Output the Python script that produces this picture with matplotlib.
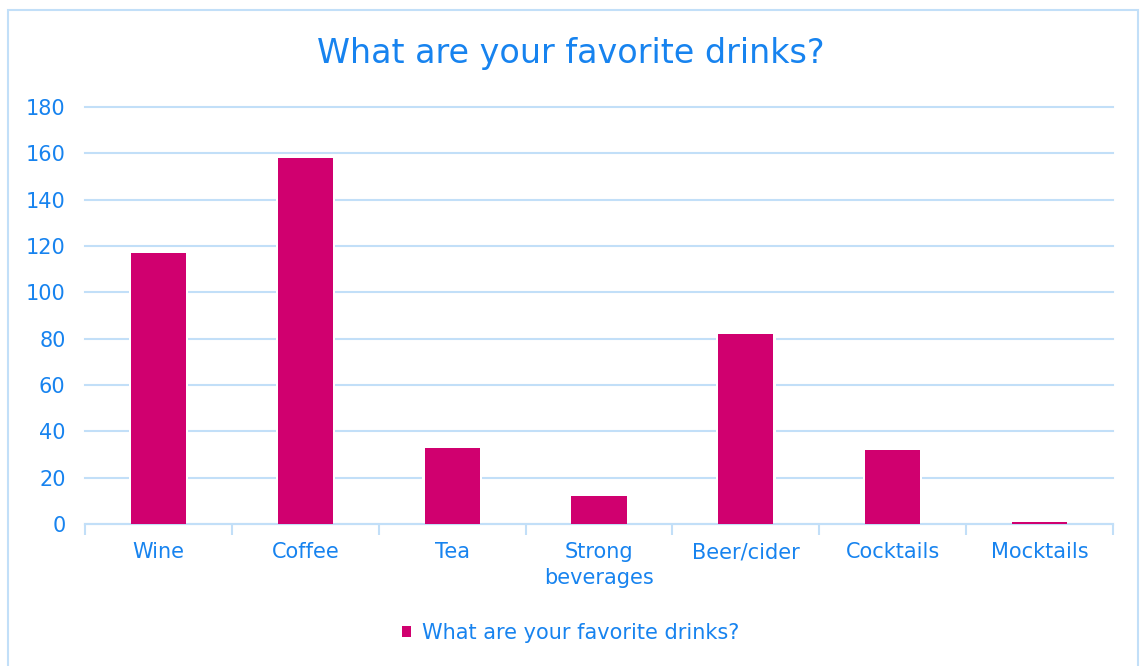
import matplotlib.pyplot as plt
from matplotlib.patches import Rectangle
import numpy as np

categories = ["Wine", "Coffee", "Tea", "Strong\nbeverages", "Beer/cider", "Cocktails", "Mocktails"]
counts = [117, 158, 33, 12, 82, 32, 1]
series_name = "What are your favorite drinks?"
yticks = [0, 20, 40, 60, 80, 100, 120, 140, 160, 180]

text_blue = "#1783ef"
grid_blue = "#c2dff8"
bar_pink = "#d0006f"

plt.rcParams["font.family"] = ["DejaVu Sans"]

fig = plt.figure(figsize=(11.41, 6.66), dpi=100)
ax = fig.add_axes([0.0745, 0.2132, 0.901, 0.6261])

x = np.arange(len(categories))
# white halo behind each bar so gridlines stop short of it
ax.bar(x, counts, width=0.405, color="white", linewidth=0, zorder=2)
ax.bar(x, counts, width=0.375, color=bar_pink, linewidth=0, zorder=3, label=series_name)

ax.set_xlim(-0.5, len(categories) - 0.5)
ax.set_ylim(0, 180)
ax.set_yticks(yticks)
ax.yaxis.grid(True, color=grid_blue, linewidth=1.5, zorder=0, clip_on=False)
for gl in ax.get_ygridlines():
    gl.set_clip_on(False)
ax.set_axisbelow(True)

ax.set_xticks(x)
ax.set_xticklabels(categories, color=text_blue, fontsize=15, linespacing=1.35)
ax.set_xticks(np.arange(-0.5, len(categories)), minor=True)
ax.tick_params(axis="x", which="major", length=0, pad=13)
ax.tick_params(axis="x", which="minor", length=8, width=1.5, color=grid_blue)
ax.tick_params(axis="y", length=0, labelsize=15, labelcolor=text_blue, pad=14)

for side in ["top", "right", "left"]:
    ax.spines[side].set_visible(False)
ax.spines["bottom"].set_color(grid_blue)
ax.spines["bottom"].set_linewidth(1.5)

fig.text(0.5, 0.92, series_name, ha="center", va="center", fontsize=24, color=text_blue)

leg = fig.legend(loc="center", bbox_to_anchor=(0.5, 0.05), frameon=False,
                 handlelength=0.45, handleheight=0.45, handletextpad=0.5, fontsize=15)
for t in leg.get_texts():
    t.set_color(text_blue)

# light border around the whole chart area
fig.patches.append(Rectangle((0.007, -0.01), 0.99, 0.995, transform=fig.transFigure,
                             fill=False, edgecolor=grid_blue, linewidth=1.5))

fig.savefig("out.png", dpi=100, facecolor="white")
